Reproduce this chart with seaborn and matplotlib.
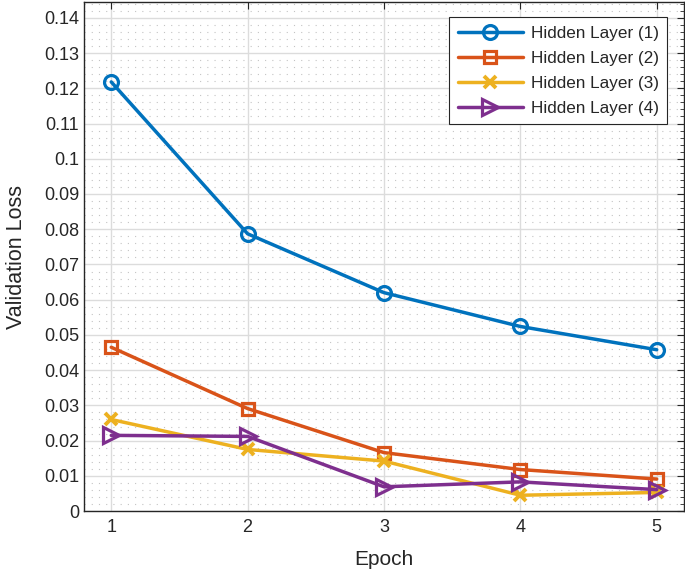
import numpy as np
import pandas as pd
import matplotlib
matplotlib.use("Agg")
import matplotlib.pyplot as plt
import seaborn as sns
from matplotlib.ticker import MultipleLocator

# valeurs
epochs = [1, 2, 3, 4, 5]
layer1 = [0.1218, 0.0787, 0.0620, 0.0524, 0.0458]
layer2 = [0.0465, 0.0291, 0.0166, 0.0118, 0.0091]
layer3 = [0.0260, 0.0175, 0.0142, 0.0045, 0.0053]
layer4 = [0.0215, 0.0212, 0.0069, 0.0083, 0.0061]
labels = ['Hidden Layer (1)', 'Hidden Layer (2)', 'Hidden Layer (3)', 'Hidden Layer (4)']

colors = ['#0072BD', '#D95319', '#EDB120', '#7E2F8E']
markers = ['o', 's', 'X', '>']
sizes = [10, 8, 8, 11]

df = pd.DataFrame({
    'Epoch': epochs * 4,
    'loss': layer1 + layer2 + layer3 + layer4,
    'layer': [lab for lab in labels for _ in epochs],
})

sns.set_style('white')
plt.rcParams['font.family'] = ['Liberation Sans', 'DejaVu Sans']

fig = plt.figure(figsize=(6.85, 5.73), dpi=100)
ax = fig.add_axes([0.1226, 0.108, 0.8759, 0.888])

sns.lineplot(data=df, x='Epoch', y='loss', hue='layer', style='layer',
             palette=colors, markers=markers, dashes=False,
             linewidth=2.5, legend=False, ax=ax)

for line, c, m, s in zip(ax.lines, colors, markers, sizes):
    line.set_marker('x' if m == 'X' else m)
    line.set_markersize(s)
    line.set_markeredgecolor(c)
    line.set_markerfacecolor('none')
    line.set_markeredgewidth(2.3 if m != 'X' else 2.8)

ax.set_xlim(0.8, 5.2)
ax.set_ylim(0, 0.1444)
ax.set_xticks(epochs)
ax.yaxis.set_minor_locator(MultipleLocator(0.002))
ax.set_yticks(np.arange(0, 0.141, 0.01))
ax.set_yticklabels(['0'] + [f'{v:g}' for v in np.round(np.arange(0.01, 0.141, 0.01), 2)])

ax.grid(True, which='major', color='#dcdcdc', linewidth=1.0)
ax.grid(True, which='minor', axis='y', color='#c4c4c4', linestyle=(0, (1, 5.5)), linewidth=0.8)
ax.set_axisbelow(True)

ax.tick_params(which='both', direction='in', top=True, right=True,
               colors='#262626', labelcolor='#262626', labelsize=13)
ax.tick_params(which='major', length=5, width=0.8)
ax.tick_params(which='minor', length=3, width=0.6)
ax.tick_params(axis='x', pad=6)
for sp in ax.spines.values():
    sp.set_color('#262626')
    sp.set_linewidth(1.0)

ax.set_xlabel('Epoch', fontsize=15, color='#262626', labelpad=10)
ax.set_ylabel('Validation Loss', fontsize=15.5, color='#262626', labelpad=12)

leg = ax.legend(ax.lines, labels, loc='upper right', bbox_to_anchor=(0.972, 0.9705),
                fontsize=12.3, frameon=True, fancybox=False, framealpha=1,
                edgecolor='#262626', handlelength=3.8, borderpad=0.5,
                labelspacing=0.58, handletextpad=0.45, borderaxespad=0)
leg.get_frame().set_linewidth(0.8)

fig.savefig('out.png', dpi=100)
